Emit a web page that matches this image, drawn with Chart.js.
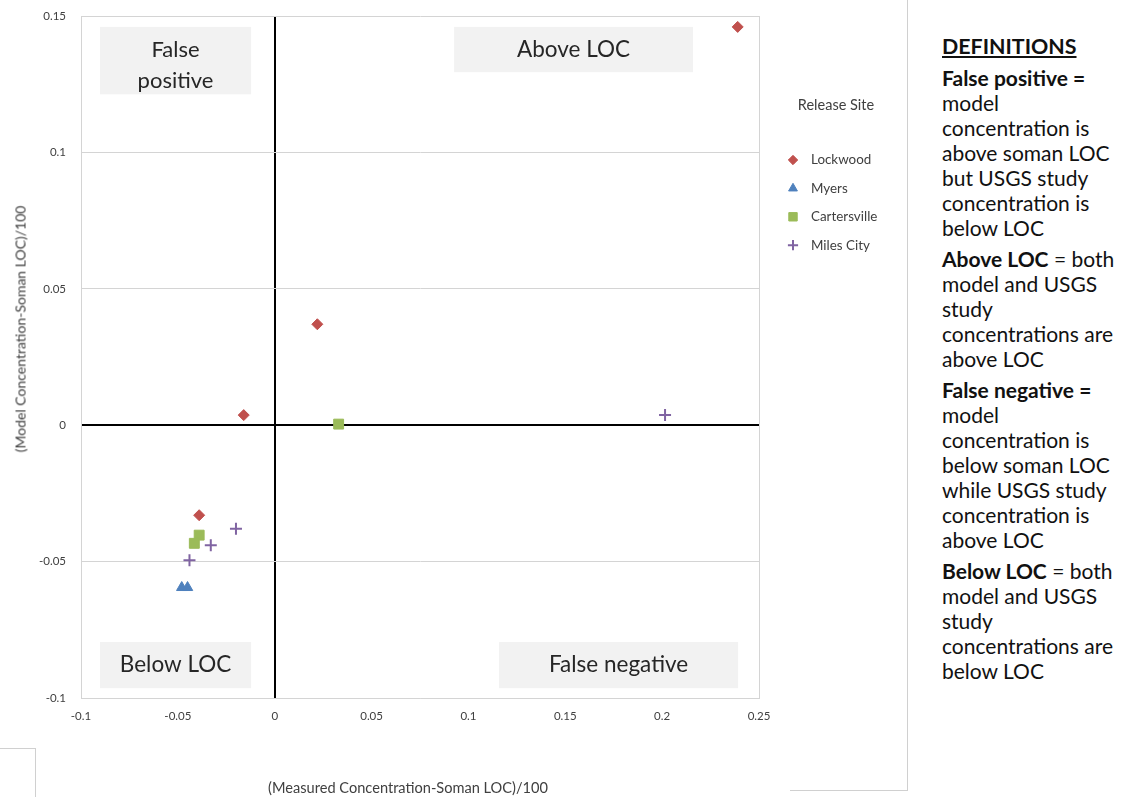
<!DOCTYPE html>
<html>
<head>
<meta charset="utf-8">
<script src="https://cdn.jsdelivr.net/npm/chart.js@4/dist/chart.umd.min.js"></script>
<style>
  html,body{margin:0;padding:0;background:#fff;}
  body{width:1124px;height:797px;position:relative;overflow:hidden;font-family:Lato,"Open Sans",sans-serif;}
  #wrap{position:absolute;left:0;top:0;width:907px;height:797px;}
  .frame{position:absolute;background:#d0d0d0;}
  .ytitle{position:absolute;left:20px;top:329px;transform:translate(-50%,-50%) rotate(-90deg);
    white-space:nowrap;font-size:14px;color:#404040;}
  .xtitle{position:absolute;left:408px;top:787px;transform:translate(-50%,-50%);
    white-space:nowrap;font-size:14.6px;color:#404040;}
  #defs{position:absolute;left:942px;top:34px;width:182px;color:#111;font-size:21px;line-height:25px;}
  #defs h3{margin:0 0 6px 0;font-size:21.4px;font-weight:bold;text-decoration:underline;line-height:25px;}
  #defs p{margin:0 0 6px 0;}
</style>
</head>
<body>
<div id="wrap"><canvas id="c"></canvas></div>
<div class="ytitle">(Model Concentration-Soman LOC)/100</div>
<div class="xtitle">(Measured Concentration-Soman LOC)/100</div>
<!-- stray frame edges from the original slide -->
<div class="frame" style="left:907px;top:0;width:1px;height:790px"></div>
<div class="frame" style="left:790px;top:790px;width:118px;height:1px"></div>
<div class="frame" style="left:0;top:748px;width:35px;height:1px"></div>
<div class="frame" style="left:35px;top:748px;width:1px;height:49px"></div>

<div id="defs">
  <h3>DEFINITIONS</h3>
  <p><b>False positive =</b><br>model<br>concentration is<br>above soman LOC<br>but USGS study<br>concentration is<br>below LOC</p>
  <p><b>Above LOC</b> = both<br>model and USGS<br>study<br>concentrations are<br>above LOC</p>
  <p><b>False negative =</b><br>model<br>concentration is<br>below soman LOC<br>while USGS study<br>concentration is<br>above LOC</p>
  <p><b>Below LOC</b> = both<br>model and USGS<br>study<br>concentrations are<br>below LOC</p>
</div>

<script>
/* ---------- данные ---------- */
const lockwoodX     = [0.239, 0.022, -0.016, -0.039];
const lockwoodY     = [0.146, 0.037, 0.0037, -0.033];
const myersX        = [-0.048, -0.045];
const myersY        = [-0.0595, -0.0595];
const cartersvilleX = [0.033, -0.039, -0.0415];
const cartersvilleY = [0.0004, -0.0403, -0.0433];
const milesCityX    = [0.2015, -0.020, -0.033, -0.044];
const milesCityY    = [0.0037, -0.038, -0.044, -0.0495];

const xTicks = [-0.1, -0.05, 0, 0.05, 0.1, 0.15, 0.2, 0.25];
const yTicks = [-0.1, -0.05, 0, 0.05, 0.1, 0.15];

/* quadrant label boxes, in data units */
const quadText = [['False', 'positive'], ['Above LOC'], ['Below LOC'], ['False negative']];
const quadX0   = [-0.0902, 0.0926, -0.0902, 0.1158];
const quadX1   = [-0.0122, 0.2159, -0.0122, 0.2392];
const quadY0   = [0.1213, 0.1294, -0.0964, -0.0964];
const quadY1   = [0.146, 0.146, -0.0795, -0.0795];

const pts = (xs, ys) => xs.map((x, i) => ({x, y: ys[i]}));

const FONT = 'Lato, "Open Sans", sans-serif';
Chart.defaults.font.family = FONT;

/* ---------- подписи квадрантов ---------- */
const quadPlugin = {
  id: 'quads',
  beforeDatasetsDraw(chart) {
    const {ctx, scales: {x, y}} = chart;
    ctx.save();
    quadText.forEach((lines, i) => {
      const l = x.getPixelForValue(quadX0[i]), r = x.getPixelForValue(quadX1[i]);
      const t = y.getPixelForValue(quadY1[i]), b = y.getPixelForValue(quadY0[i]);
      ctx.fillStyle = '#f2f2f2';
      ctx.fillRect(l, t, r - l, b - t);
      ctx.fillStyle = '#262626';
      ctx.font = (lines.length > 1 ? '22px ' : '22.5px ') + FONT;
      ctx.textAlign = 'center';
      ctx.textBaseline = 'middle';
      const cy = (t + b) / 2 + (lines.length > 1 ? 5 : 0);
      lines.forEach((s, k) => {
        ctx.fillText(s, (l + r) / 2, cy + (k - (lines.length - 1) / 2) * 31);
      });
    });
    ctx.restore();
  }
};

/* ---------- легенда справа от графика ---------- */
const legendPlugin = {
  id: 'sideLegend',
  afterDraw(chart) {
    const {ctx, chartArea} = chart;
    const x0 = chartArea.right + 34;
    ctx.save();
    ctx.fillStyle = '#404040';
    ctx.font = '14.5px ' + FONT;
    ctx.textAlign = 'center';
    ctx.textBaseline = 'middle';
    ctx.fillText('Release Site', chartArea.right + 77, 105);
    ctx.textAlign = 'left';
    ctx.font = '13.4px ' + FONT;
    chart.data.datasets.forEach((ds, i) => {
      const yy = 160 + i * 28.4;
      ctx.fillStyle = ds.backgroundColor;
      ctx.strokeStyle = ds.borderColor;
      ctx.lineWidth = ds.borderWidth;
      Chart.helpers.drawPoint(ctx, {
        pointStyle: ds.pointStyle, radius: ds.pointRadius * 0.85,
        rotation: 0, borderWidth: ds.borderWidth
      }, x0, yy);
      ctx.fillStyle = '#404040';
      ctx.fillText(ds.label, x0 + 18, yy);
    });
    ctx.restore();
  }
};

const gridGrey = '#d4d4d4';
const clear = 'rgba(0,0,0,0)';

new Chart(document.getElementById('c'), {
  type: 'scatter',
  data: {
    datasets: [
      {label: 'Lockwood', data: pts(lockwoodX, lockwoodY), pointStyle: 'rectRot',
       pointRadius: 5.5, backgroundColor: '#c0504d', borderColor: '#c0504d', borderWidth: 1},
      {label: 'Myers', data: pts(myersX, myersY), pointStyle: 'triangle',
       pointRadius: 6, backgroundColor: '#4f81bd', borderColor: '#4f81bd', borderWidth: 1},
      {label: 'Cartersville', data: pts(cartersvilleX, cartersvilleY), pointStyle: 'rect',
       pointRadius: 7, backgroundColor: '#9bbb59', borderColor: '#9bbb59', borderWidth: 1},
      {label: 'Miles City', data: pts(milesCityX, milesCityY), pointStyle: 'cross',
       pointRadius: 6, backgroundColor: '#8064a2', borderColor: '#8064a2', borderWidth: 2}
    ]
  },
  options: {
    responsive: true, maintainAspectRatio: false, animation: false,
    layout: {padding: {left: 0, top: 16, right: 148, bottom: 0}},
    plugins: {legend: {display: false}, tooltip: {enabled: false}},
    scales: {
      x: {
        type: 'linear', min: -0.1, max: 0.25,
        afterFit: s => { s.height = 99; },
        afterBuildTicks: s => { s.ticks = xTicks.map(v => ({value: v})); },
        ticks: {padding: 11, color: '#404040', font: {size: 11.5}, callback: v => String(+v.toFixed(2))},
        grid: {
          drawTicks: false,
          color: c => c.tick.value === 0 ? '#000' : (c.tick.value === 0.25 || c.tick.value === -0.1 ? gridGrey : clear),
          lineWidth: c => c.tick.value === 0 ? 2 : 1
        },
        border: {color: gridGrey}
      },
      y: {
        type: 'linear', min: -0.1, max: 0.15,
        afterFit: s => { s.width = 81; },
        afterBuildTicks: s => { s.ticks = yTicks.map(v => ({value: v})); },
        // invisible tick marks give the label gap without extra top padding
        ticks: {padding: 3, color: '#404040', font: {size: 11.5}, callback: v => String(+v.toFixed(2))},
        grid: {
          drawTicks: true, tickLength: 12, tickColor: clear,
          color: c => c.tick.value === 0 ? '#000' : gridGrey,
          lineWidth: c => c.tick.value === 0 ? 2 : 1
        },
        border: {color: gridGrey}
      }
    }
  },
  plugins: [quadPlugin, legendPlugin]
});
</script>
</body>
</html>
